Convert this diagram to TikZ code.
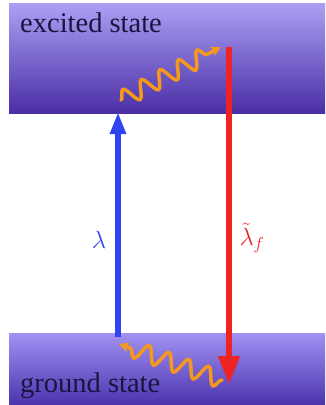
\documentclass[tikz,border=0pt]{standalone}
\usepackage{fontspec}
\setmainfont{Liberation Serif}
\usetikzlibrary{arrows.meta,decorations.pathmorphing}
\definecolor{bandtop}{HTML}{ABA0F4}
\definecolor{bandbot}{HTML}{4A2EA6}
\definecolor{gbandtop}{HTML}{A091F2}
\definecolor{gbandbot}{HTML}{4B33AE}
\definecolor{myblue}{HTML}{3045F0}
\definecolor{myred}{HTML}{EE2424}
\definecolor{myorange}{HTML}{F4981E}
\definecolor{txt}{HTML}{1A1440}
\tikzset{
  band/.style={draw=none, anchor=north west, inner sep=0pt, minimum width=316pt},
  level/.style={font=\fontsize{28.5}{30}\selectfont, text=txt, anchor=base west, inner sep=0pt},
  photon/.style={myorange, line width=3.5pt, line cap=round,
    decorate, decoration={snake, segment length=21pt, amplitude=8.5pt, post length=7pt},
    -{Stealth[length=10pt,width=10pt]}},
  transition/.style={line width=5.5pt},
  lbl/.style={font=\fontsize{24}{26}\selectfont}
}
\begin{document}
\begin{tikzpicture}[x=1pt,y=-1pt]
\useasboundingbox (0,0) rectangle (325,405);
\node[band, minimum height=110pt, top color=bandtop, bottom color=bandbot] (exc) at (9,3) {};
\node[band, minimum height=72pt, top color=gbandtop, bottom color=gbandbot] (gnd) at (9,333) {};
\node[level] (lexc) at (20,32) {excited state};
\node[level] (lgnd) at (20,392) {ground state};
% absorption
\coordinate (b0) at (118,337);
\coordinate (b1) at (118,112);
\draw[transition, myblue, -{Triangle[length=22pt,width=15pt]}] (b0) -- (b1);
\node[myblue, lbl] (lam) at (99,240) {$\lambda$};
% emission
\coordinate (r0) at (229,47);
\coordinate (r1) at (229,384);
\draw[transition, myred, -{Triangle[length=28pt,width=21pt]}] (r0) -- (r1);
\node[myred, lbl, anchor=west] (lamf) at (236,238) {$\tilde{\lambda}_f$};
% relaxation
\coordinate (p0) at (121,100);
\coordinate (p1) at (221,47);
\draw[photon] (p0) -- (p1);
\coordinate (q0) at (222,380);
\coordinate (q1) at (119,344);
\draw[photon] (q0) -- (q1);
\end{tikzpicture}
\end{document}
